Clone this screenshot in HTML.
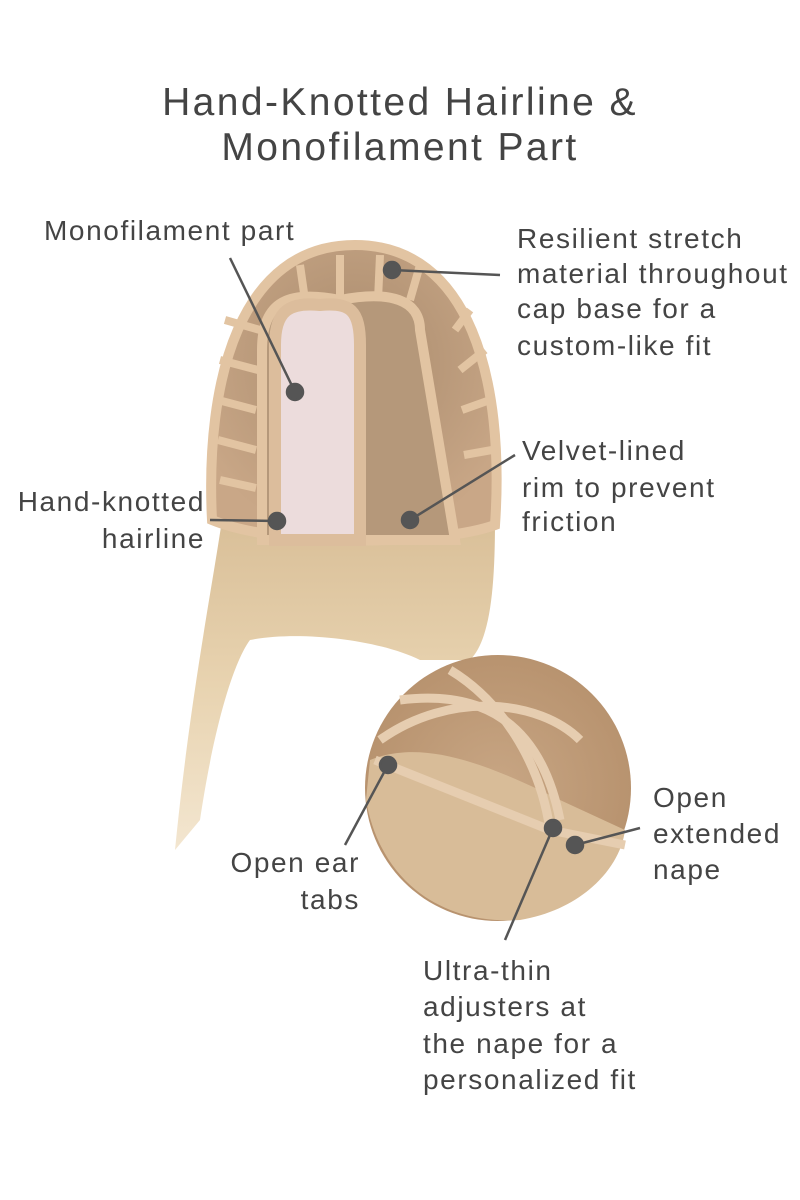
<!DOCTYPE html>
<html><head><meta charset="utf-8"><style>
html,body{margin:0;padding:0;background:#fff;}
svg{display:block;}
text{font-family:"Liberation Sans",sans-serif;fill:#444;}
</style></head><body>
<svg width="800" height="1200" viewBox="0 0 800 1200" xmlns="http://www.w3.org/2000/svg">
<defs>
<linearGradient id="hair" x1="0" y1="0" x2="0" y2="1">
<stop offset="0" stop-color="#d9bf98"/><stop offset="0.5" stop-color="#e8d3b0"/><stop offset="1" stop-color="#f3e6d0"/>
</linearGradient>
<radialGradient id="cap" cx="0.5" cy="0.4" r="0.6">
<stop offset="0" stop-color="#a88a6c"/><stop offset="1" stop-color="#c9a787"/>
</radialGradient>
<radialGradient id="inset" cx="0.5" cy="0.5" r="0.5">
<stop offset="0" stop-color="#c8a684"/><stop offset="1" stop-color="#b8936f"/>
</radialGradient>
</defs>
<g font-size="39" letter-spacing="2.4" fill="#555">
<text x="400" y="115" text-anchor="middle" fill="#555">Hand-Knotted Hairline &amp;</text>
<text x="400" y="160" text-anchor="middle" fill="#555">Monofilament Part</text>
</g>

<path d="M222 520 C210 600 190 700 175 850 L200 820 C215 720 235 660 250 640 C300 630 380 640 420 660 L470 660 C490 640 495 590 495 520 Z" fill="url(#hair)"/>
<path d="M212 520 C205 380 240 245 355 245 C470 245 505 380 495 525 C440 545 280 548 212 520 Z" fill="url(#cap)" stroke="#e2c4a2" stroke-width="10"/>
<g stroke="#e2c4a2" stroke-width="8" fill="none">
<path d="M225 320 L260 330"/><path d="M220 360 L258 370"/><path d="M218 400 L256 410"/><path d="M218 440 L256 450"/><path d="M220 480 L256 488"/>
<path d="M470 310 L455 330"/><path d="M485 350 L460 370"/><path d="M490 400 L462 410"/><path d="M492 450 L464 455"/>
<path d="M300 265 L305 300"/><path d="M340 255 L340 300"/><path d="M380 255 L378 300"/><path d="M420 265 L410 300"/>
</g>
<path d="M262 540 L262 350 C262 300 290 290 340 300 C390 290 420 300 420 330 L455 540 Z" fill="#b5987a" stroke="#e2c4a2" stroke-width="10"/>
<path d="M275 540 L275 345 C275 310 290 302 320 305 C350 302 360 310 360 345 L360 540 Z" fill="#ecdcdc" stroke="#dcbd9c" stroke-width="12"/>

<circle cx="498" cy="788" r="133" fill="url(#inset)"/>
<path d="M370 760 C420 740 480 760 560 800 L625 830 C620 870 580 910 520 920 C440 925 380 880 366 800 Z" fill="#d8bc98"/>
<g stroke="#e6cdb0" stroke-width="9" fill="none">
<path d="M380 740 C450 690 540 700 580 740"/><path d="M400 700 C480 690 540 720 560 820"/><path d="M450 670 C500 700 540 760 550 830"/><path d="M375 760 L550 830 L625 845"/>
</g>

<g stroke="#555" stroke-width="2.5" fill="#555">
<line x1="230" y1="258" x2="295" y2="392"/><circle cx="295" cy="392" r="8"/>
<line x1="500" y1="275" x2="392" y2="270"/><circle cx="392" cy="270" r="8"/>
<line x1="515" y1="455" x2="410" y2="520"/><circle cx="410" cy="520" r="8"/>
<line x1="210" y1="520" x2="277" y2="521"/><circle cx="277" cy="521" r="8"/>
<line x1="345" y1="845" x2="388" y2="765"/><circle cx="388" cy="765" r="8"/>
<line x1="640" y1="828" x2="575" y2="845"/><circle cx="575" cy="845" r="8"/>
<line x1="505" y1="940" x2="553" y2="828"/><circle cx="553" cy="828" r="8"/>
</g>

<g font-size="28" letter-spacing="1.6">
<text x="44" y="240">Monofilament part</text>
<text x="517" y="248">Resilient stretch</text>
<text x="517" y="283">material throughout</text>
<text x="517" y="318">cap base for a</text>
<text x="517" y="355">custom-like fit</text>
<text x="522" y="460">Velvet-lined</text>
<text x="522" y="497">rim to prevent</text>
<text x="522" y="531">friction</text>
<text x="205" y="511" text-anchor="end">Hand-knotted</text>
<text x="205" y="548" text-anchor="end">hairline</text>
<text x="360" y="872" text-anchor="end">Open ear</text>
<text x="360" y="909" text-anchor="end">tabs</text>
<text x="653" y="807">Open</text>
<text x="653" y="843">extended</text>
<text x="653" y="879">nape</text>
<text x="423" y="980">Ultra-thin</text>
<text x="423" y="1016">adjusters at</text>
<text x="423" y="1053">the nape for a</text>
<text x="423" y="1089">personalized fit</text>
</g>
</svg>
</body></html>
